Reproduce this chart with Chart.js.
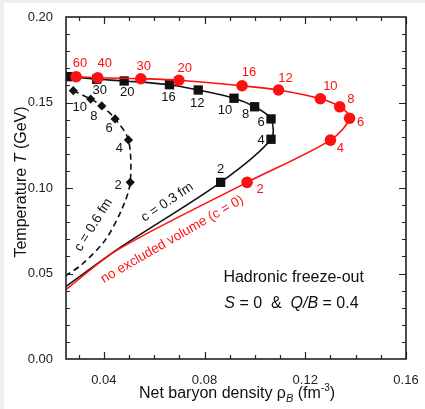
<!DOCTYPE html>
<html>
<head>
<meta charset="utf-8">
<script src="https://cdn.jsdelivr.net/npm/chart.js@4.4.0/dist/chart.umd.min.js"></script>
<style>
  html, body { margin: 0; padding: 0; background: #fff; }
  canvas { display: block; }
</style>
</head>
<body>
<canvas id="chart" width="425" height="409"></canvas>
<script>
// freeze-out curves, T against net baryon density
// numbers next to the markers are the beam energies

const xTicks = [0.04, 0.08, 0.12, 0.16];
const yTicks = [0.00, 0.05, 0.10, 0.15, 0.20];

// no excluded volume (c = 0) - red circles
const rhoC0 = [0.0290, 0.0376, 0.0547, 0.0698, 0.0949, 0.1094, 0.1260, 0.1337, 0.1376, 0.1300, 0.0969];
const tC0 = [0.1651, 0.1645, 0.1639, 0.1630, 0.1598, 0.1573, 0.1522, 0.1475, 0.1408, 0.1280, 0.1033];
const labelsC0 = ['60', '40', '30', '20', '16', '12', '10', '8', '6', '4', '2'];
// the line goes on below the last marker, down to the axis
const rhoC0Tail = [0.0453, 0.0250];
const tC0Tail = [0.0637, 0.0406];

// c = 0.3 fm - black squares
const rhoC3 = [0.0257, 0.0372, 0.0481, 0.0661, 0.0775, 0.0917, 0.0999, 0.1064, 0.1064, 0.0864];
const tC3 = [0.1651, 0.1636, 0.1626, 0.1604, 0.1573, 0.1525, 0.1475, 0.1404, 0.1285, 0.1033];
const labelsC3 = ['', '30', '20', '16', '12', '10', '8', '6', '4', '2'];
const rhoC3Tail = [0.0460, 0.0250];
const tC3Tail = [0.0647, 0.0424];

// c = 0.6 fm - black diamonds, dashed
const rhoC6 = [0.0279, 0.0348, 0.0392, 0.0445, 0.0498, 0.0505];
const tC6 = [0.1569, 0.1520, 0.1480, 0.1404, 0.1281, 0.1033];
const labelsC6 = ['', '10', '8', '6', '4', '2'];
const rhoC6Tail = [0.0473, 0.0406, 0.0314, 0.0250];
const tC6Tail = [0.0880, 0.0696, 0.0554, 0.0488];

const RED = '#ff1010';
const BLACK = '#111111';
const FONT = '"Liberation Sans", Arial, Helvetica, sans-serif';

function toPoints(xs, ys) {
    return xs.map((x, i) => ({ x: x, y: ys[i] }));
}

function drawRuns(ctx, runs, x, y) {
    // runs: [text, font, dy]  -> centred at x
    let w = 0;
    runs.forEach(r => { ctx.font = r[1]; w += ctx.measureText(r[0]).width; });
    let cx = x - w / 2;
    ctx.textAlign = 'left';
    ctx.textBaseline = 'alphabetic';
    runs.forEach(r => {
        ctx.font = r[1];
        ctx.fillText(r[0], cx, y + (r[2] || 0));
        cx += ctx.measureText(r[0]).width;
    });
}

const frame = {
    id: 'frame',
    beforeDraw(chart) {
        const ctx = chart.ctx;
        ctx.save();
        ctx.fillStyle = '#f4edf6';
        ctx.fillRect(0, 0, chart.width, 3);
        ctx.fillRect(0, 0, 4, chart.height);
        ctx.restore();
    },
    afterDraw(chart) {
        const ctx = chart.ctx;
        const a = chart.chartArea;
        const sx = chart.scales.x, sy = chart.scales.y;
        ctx.save();
        ctx.strokeStyle = '#222';
        ctx.lineWidth = 1.2;
        // inward ticks every 0.01, longer ones on the labelled values
        for (let i = 3; i <= 16; i++) {
            const v = i / 100;
            const px = Math.round(sx.getPixelForValue(v)) + 0.5;
            const len = xTicks.some(t => Math.abs(t - v) < 1e-6) ? 7 : 4;
            ctx.beginPath();
            ctx.moveTo(px, a.bottom); ctx.lineTo(px, a.bottom - len);
            ctx.moveTo(px, a.top); ctx.lineTo(px, a.top + len);
            ctx.stroke();
        }
        for (let i = 1; i < 20; i++) {
            const v = i / 100;
            const py = Math.round(sy.getPixelForValue(v)) + 0.5;
            const len = yTicks.some(t => Math.abs(t - v) < 1e-6) ? 7 : 4;
            ctx.beginPath();
            ctx.moveTo(a.left, py); ctx.lineTo(a.left + len, py);
            ctx.moveTo(a.right, py); ctx.lineTo(a.right - len, py);
            ctx.stroke();
        }
        ctx.lineWidth = 1.6;
        ctx.strokeRect(a.left, a.top, a.right - a.left, a.bottom - a.top);

        // axis titles
        ctx.fillStyle = '#111';
        drawRuns(ctx, [
            ['Net baryon density ', '16px ' + FONT],
            ['\u03C1', '16px ' + FONT],
            ['B', 'italic 11px ' + FONT, 4],
            [' (fm', '16px ' + FONT],
            ['-3', '10px ' + FONT, -7],
            [')', '16px ' + FONT]
        ], 237, 398);
        ctx.translate(26, 182);
        ctx.rotate(-Math.PI / 2);
        drawRuns(ctx, [
            ['Temperature ', '16px ' + FONT],
            ['T', 'italic 16px ' + FONT],
            [' (GeV)', '16px ' + FONT]
        ], 0, 0);
        ctx.restore();

        // annotation text
        ctx.save();
        ctx.fillStyle = '#111';
        drawRuns(ctx, [['Hadronic freeze-out', '16px ' + FONT]], sx.getPixelForValue(0.1154), sy.getPixelForValue(0.0481) + 5);
        drawRuns(ctx, [
            ['S', 'italic 16px ' + FONT],
            [' = 0  &  ', '16px ' + FONT],
            ['Q/B', 'italic 16px ' + FONT],
            [' = 0.4', '16px ' + FONT]
        ], sx.getPixelForValue(0.1145), sy.getPixelForValue(0.0329) + 5);

        const curveNames = [
            ['c = 0.6 fm', 0.0359, 0.0784, -58, BLACK],
            ['c = 0.3 fm', 0.0652, 0.0916, -34, BLACK],
            ['no excluded volume (c = 0)', 0.0672, 0.0700, -30, RED]
        ];
        curveNames.forEach(c => {
            ctx.save();
            ctx.translate(sx.getPixelForValue(c[1]), sy.getPixelForValue(c[2]));
            ctx.rotate(c[3] * Math.PI / 180);
            ctx.fillStyle = c[4];
            ctx.font = '13.5px ' + FONT;
            ctx.textAlign = 'center';
            ctx.textBaseline = 'middle';
            ctx.fillText(c[0], 0, 0);
            ctx.restore();
        });
        ctx.restore();
    }
};

const pointLabels = {
    id: 'pointLabels',
    afterDatasetsDraw(chart) {
        const ctx = chart.ctx;
        chart.data.datasets.forEach((ds, i) => {
            if (!ds.labels) return;
            const meta = chart.getDatasetMeta(i);
            ctx.save();
            ctx.fillStyle = ds.labelColor;
            ctx.font = '13px ' + FONT;
            ctx.textAlign = 'center';
            ctx.textBaseline = 'middle';
            ds.labels.forEach((t, j) => {
                if (!t) return;
                const p = meta.data[j];
                const off = ds.labelOffsets[j];
                ctx.fillText(t, p.x + off[0], p.y + off[1]);
            });
            ctx.restore();
        });
    }
};

function markerRadius(n, r) {
    return ctx => (ctx.dataIndex < n ? r : 0);
}

const ctx = document.getElementById('chart');

new Chart(ctx, {
    type: 'scatter',
    data: {
        datasets: [{
            label: 'no excluded volume (c = 0)',
            data: toPoints(rhoC0.concat(rhoC0Tail), tC0.concat(tC0Tail)),
            showLine: true,
            tension: 0.3,
            borderColor: RED,
            backgroundColor: RED,
            borderWidth: 1.6,
            pointStyle: 'circle',
            pointRadius: markerRadius(rhoC0.length, 5.8),
            pointBorderWidth: 0,
            labels: labelsC0,
            labelColor: RED,
            labelOffsets: [[4, -13], [7, -14], [3, -12], [6, -12], [7, -13], [7, -12], [10, -12], [11, -7], [11, 4], [10, 8], [13, 7]]
        }, {
            label: 'c = 0.3 fm',
            data: toPoints(rhoC3.concat(rhoC3Tail), tC3.concat(tC3Tail)),
            showLine: true,
            tension: 0.3,
            borderColor: BLACK,
            backgroundColor: BLACK,
            borderWidth: 1.6,
            pointStyle: 'rect',
            pointRadius: markerRadius(rhoC3.length, 6.6),
            pointBorderWidth: 0,
            labels: labelsC3,
            labelColor: BLACK,
            labelOffsets: [[0, 0], [3, 11], [3, 11], [-1, 13], [-1, 13], [-9, 12], [-9, 8], [-10, 4], [-10, 1], [0, -13]]
        }, {
            label: 'c = 0.6 fm',
            data: toPoints(rhoC6.concat(rhoC6Tail), tC6.concat(tC6Tail)),
            showLine: true,
            tension: 0.3,
            borderColor: BLACK,
            backgroundColor: BLACK,
            borderWidth: 1.6,
            borderDash: [6, 4],
            pointStyle: 'rectRot',
            pointRadius: markerRadius(rhoC6.length, 4.6),
            pointBorderWidth: 0,
            labels: labelsC6,
            labelColor: BLACK,
            labelOffsets: [[0, 0], [-11, 8], [-8, 11], [-6, 10], [-9, 8], [-12, 3]]
        }]
    },
    options: {
        responsive: false,
        animation: false,
        layout: {
            padding: { top: 17, right: 19, left: 0, bottom: 0 }
        },
        plugins: {
            legend: { display: false },
            tooltip: { enabled: false }
        },
        scales: {
            x: {
                type: 'linear',
                min: 0.025,
                max: 0.16,
                grid: { display: false },
                border: { display: false },
                afterBuildTicks: s => { s.ticks = xTicks.map(v => ({ value: v })); },
                afterFit: s => { s.height = 50; },
                ticks: {
                    padding: 6,
                    color: '#222',
                    font: { family: FONT, size: 13 },
                    callback: v => v.toFixed(2)
                }
            },
            y: {
                type: 'linear',
                min: 0,
                max: 0.2,
                grid: { display: false },
                border: { display: false },
                afterBuildTicks: s => { s.ticks = yTicks.map(v => ({ value: v })); },
                afterFit: s => { s.width = 66; },
                ticks: {
                    padding: 5,
                    color: '#222',
                    font: { family: FONT, size: 13 },
                    callback: v => v.toFixed(2)
                }
            }
        }
    },
    plugins: [frame, pointLabels]
});
</script>
</body>
</html>
